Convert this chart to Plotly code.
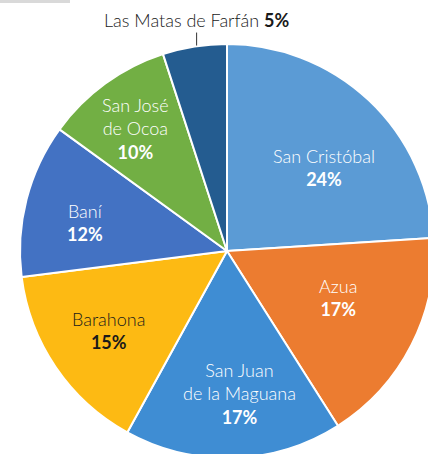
import math
import plotly.graph_objects as go

# ---- data ----
labels = ["San Cristóbal", "Azua", "San Juan de la Maguana", "Barahona",
          "Baní", "San José de Ocoa", "Las Matas de Farfán"]
values = [24, 17, 17, 15, 12, 10, 5]
label_lines = ["San Cristóbal", "Azua", "San Juan<br>de la Maguana", "Barahona",
               "Baní", "San José<br>de Ocoa", "Las Matas de Farfán"]

# ---- styles ----
colors = ["#5B9BD5", "#EC7C30", "#3F8DD3", "#FDBA13", "#4372C3", "#72AF44", "#245C90"]
text_colors = ["white", "white", "white", "#1a1a1a", "white", "white", "#1a1a1a"]
# label placement relative to slice middle: (angle offset deg, radius fraction)
label_place = [(6.2, 0.62), (-4.1, 0.58), (-3.4, 0.69), (0.6, 0.69),
               (-2.9, 0.70), (-0.8, 0.74), None]

VW, VH = 428, 454          # visible window
W, H = 440, 470            # figure slightly larger; overflow is clipped
CX, CY, R = 227, 251, 207
FONT = "Lato"
FS = 18

fig = go.Figure(go.Pie(
    labels=labels, values=values, sort=False, direction="clockwise", rotation=0,
    marker=dict(colors=colors, line=dict(color="white", width=2)),
    textinfo="none", hoverinfo="skip", showlegend=False,
    domain=dict(x=[(CX - R) / W, (CX + R) / W], y=[(H - CY - R) / H, (H - CY + R) / H]),
))

def to_paper(px, py):
    return px / W, 1 - py / H

total = sum(values)
cum = 0
annotations = []
shapes = []
for i, v in enumerate(values):
    mid = (cum + v / 2) / total * 360
    cum += v
    place = label_place[i]
    text = f"{label_lines[i]}<br><b>{v}%</b>"
    if place is not None:
        a = math.radians(mid + place[0])
        px = CX + place[1] * R * math.sin(a)
        py = CY - place[1] * R * math.cos(a)
        x, y = to_paper(px, py)
        annotations.append(dict(x=x, y=y, xref="paper", yref="paper", text=text,
                                showarrow=False, xanchor="center", yanchor="middle",
                                font=dict(family=FONT, size=FS, weight=300,
                                          color=text_colors[i])))
    else:
        a = math.radians(mid)
        ex = CX + R * math.sin(a)
        ey = CY - R * math.cos(a)
        x0, y0 = to_paper(ex + 2, ey - 1)
        x1, y1 = to_paper(ex + 2, ey - 14)
        shapes.append(dict(type="line", xref="paper", yref="paper", x0=x0, y0=y0,
                           x1=x1, y1=y1, line=dict(color="#333333", width=1)))
        tx, ty = to_paper(ex + 2, ey - 27)
        annotations.append(dict(x=tx, y=ty, xref="paper", yref="paper",
                                text=f"{label_lines[i]} <b>{v}%</b>",
                                showarrow=False, xanchor="center", yanchor="middle",
                                font=dict(family=FONT, size=FS, weight=300,
                                          color=text_colors[i])))

# faint rule at top-left
shapes.append(dict(type="rect", xref="paper", yref="paper", x0=0, x1=70 / W,
                   y0=1 - 3 / H, y1=1, line=dict(width=0), fillcolor="#d9d9d9"))

fig.update_layout(width=W, height=H, margin=dict(l=0, r=0, t=0, b=0),
                  paper_bgcolor="white", plot_bgcolor="white",
                  annotations=annotations, shapes=shapes)
fig.write_html("out.html", config={"displayModeBar": False},
               post_script="document.body.style.margin='0';document.body.style.overflow='hidden';")
